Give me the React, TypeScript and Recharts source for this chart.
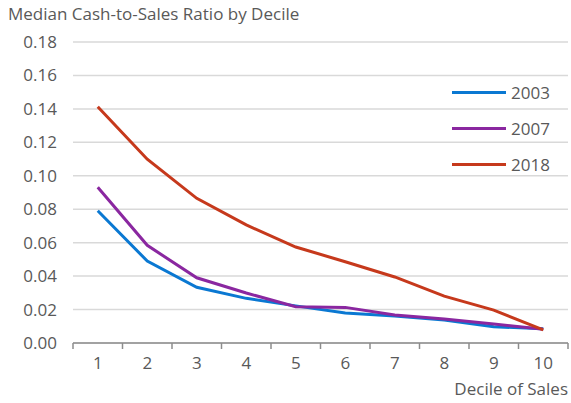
import React from 'react';
import { LineChart, Line, XAxis, YAxis, CartesianGrid } from 'recharts';

const DECILES = [1, 2, 3, 4, 5, 6, 7, 8, 9, 10];
const Y_TICKS = [0, 0.02, 0.04, 0.06, 0.08, 0.1, 0.12, 0.14, 0.16, 0.18];

const S2003 = [0.0791, 0.049, 0.0333, 0.0267, 0.0222, 0.018, 0.0161, 0.0138, 0.0097, 0.0085];
const S2007 = [0.0931, 0.0584, 0.039, 0.0299, 0.0217, 0.0213, 0.0167, 0.0144, 0.0114, 0.0082];
const S2018 = [0.1413, 0.1099, 0.0865, 0.0706, 0.0574, 0.0486, 0.0395, 0.028, 0.0197, 0.0078];

const SERIES = [
  { key: 'y2003', name: '2003', color: '#0A78D2' },
  { key: 'y2007', name: '2007', color: '#8A27A0' },
  { key: 'y2018', name: '2018', color: '#C6391C' },
];

const data = DECILES.map((d, i) => ({
  decile: d,
  y2003: S2003[i],
  y2007: S2007[i],
  y2018: S2018[i],
}));

const FONT = '"Open Sans", sans-serif';
const TEXT = '#595959';
const W = 571;
const H = 403;
const M = { top: 42, right: 3, bottom: 8, left: 0 };
const Y_W = 73;
const HALF_BAND = (W - M.right - Y_W) / DECILES.length / 2;

// labels at band centres, tick marks on the band edges
const DecileTick = (props: any) => {
  const { x, y, payload } = props;
  const last = payload.value === DECILES[DECILES.length - 1];
  return (
    <g>
      <line x1={x - HALF_BAND} x2={x - HALF_BAND} y1={y} y2={y + 6} stroke="#8c8c8c" strokeWidth={1.5} />
      {last && <line x1={x + HALF_BAND} x2={x + HALF_BAND} y1={y} y2={y + 6} stroke="#8c8c8c" strokeWidth={1.5} />}
      <text x={x} y={y + 14} dy="0.71em" textAnchor="middle" fill={TEXT} fontSize={17} fontFamily={FONT}>
        {payload.value}
      </text>
    </g>
  );
};

export default function App() {
  return (
    <div style={{ position: 'absolute', left: 0, top: 0, width: W, height: H, background: '#fff' }}>
      <div
        style={{
          position: 'absolute',
          left: 8,
          top: 2,
          fontFamily: FONT,
          fontSize: 17,
          color: TEXT,
          whiteSpace: 'nowrap',
        }}
      >
        Median Cash-to-Sales Ratio by Decile
      </div>
      <div style={{ position: 'absolute', left: 452, top: 74, fontFamily: FONT, zIndex: 2 }}>
        {SERIES.map(s => (
          <div key={s.key} style={{ display: 'flex', alignItems: 'center', height: 36 }}>
            <div style={{ width: 54, height: 3, background: s.color, marginRight: 5 }} />
            <span style={{ color: TEXT, fontSize: 17 }}>{s.name}</span>
          </div>
        ))}
      </div>
      <LineChart width={W} height={H} data={data} margin={M}>
        <CartesianGrid horizontal vertical={false} stroke="#d9d9d9" strokeWidth={1.5} />
        <XAxis
          dataKey="decile"
          type="number"
          domain={[0.5, 10.5]}
          ticks={DECILES}
          interval={0}
          height={52}
          tickSize={0}
          tickMargin={0}
          tickLine={false}
          tick={<DecileTick />}
          stroke="#8c8c8c"
          strokeWidth={1.5}
          label={{
            value: 'Decile of Sales',
            position: 'insideBottomRight',
            offset: 0,
            fill: TEXT,
            fontSize: 17,
            fontFamily: FONT,
          }}
        />
        <YAxis
          width={Y_W}
          domain={[0, 0.18]}
          ticks={Y_TICKS}
          interval={0}
          axisLine={false}
          tickLine={false}
          tickSize={0}
          tickMargin={16}
          tickFormatter={(v: number) => v.toFixed(2)}
          tick={{ fill: TEXT, fontSize: 17, fontFamily: FONT }}
        />
        {SERIES.map(s => (
          <Line
            key={s.key}
            dataKey={s.key}
            name={s.name}
            stroke={s.color}
            strokeWidth={3}
            dot={false}
            type="linear"
            isAnimationActive={false}
          />
        ))}
      </LineChart>
    </div>
  );
}
